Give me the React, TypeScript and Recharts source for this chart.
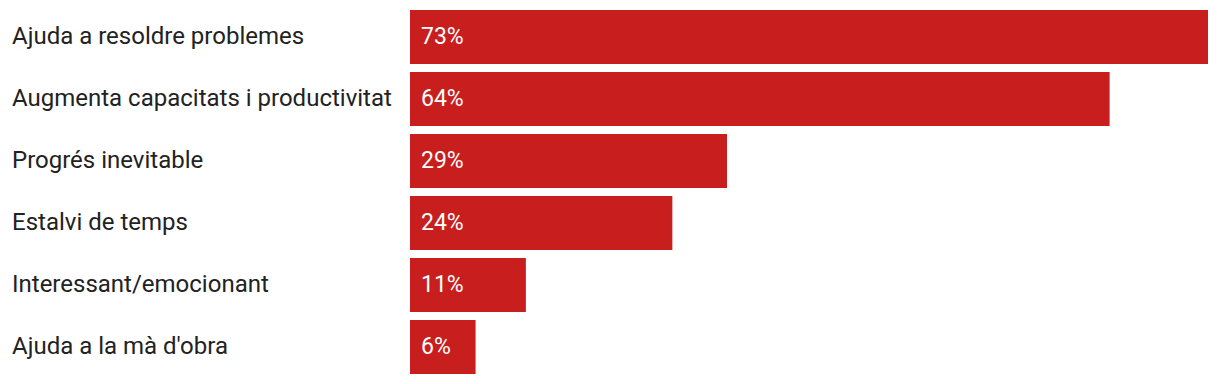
import React from "react";
import { BarChart, Bar, XAxis, YAxis, LabelList } from "recharts";

const categories = [
  "Ajuda a resoldre problemes",
  "Augmenta capacitats i productivitat",
  "Progrés inevitable",
  "Estalvi de temps",
  "Interessant/emocionant",
  "Ajuda a la mà d'obra",
];
const values = [73, 64, 29, 24, 10.6, 6];

const data = categories.map((c, i) => ({ name: c, value: values[i] }));

const Tick = (props: any) => {
  const { y, payload } = props;
  return (
    <text x={12} y={y} dy={7.3} textAnchor="start" fontFamily="Roboto" fontSize={24} fill="#222">
      {payload.value}
    </text>
  );
};

const ValueLabel = (props: any) => {
  const { x, y, height, value } = props;
  return (
    <text x={x + 11} y={y + height / 2} dy={7.3} textAnchor="start" fontFamily="Roboto" fontSize={23} fill="#fff">
      {Math.round(value)}%
    </text>
  );
};

export default function App() {
  return (
    <div style={{ position: "absolute", left: 0, top: 0 }}>
      <BarChart
        width={1220}
        height={384}
        data={data}
        layout="vertical"
        margin={{ top: 6, right: 12, bottom: 6, left: 0 }}
        barCategoryGap={4}
      >
        <XAxis type="number" domain={[0, 73]} hide />
        <YAxis type="category" dataKey="name" width={410} axisLine={false} tickLine={false} tick={<Tick />} />
        <Bar dataKey="value" fill="#C81E1E" barSize={54} isAnimationActive={false}>
          <LabelList dataKey="value" content={<ValueLabel />} />
        </Bar>
      </BarChart>
    </div>
  );
}
